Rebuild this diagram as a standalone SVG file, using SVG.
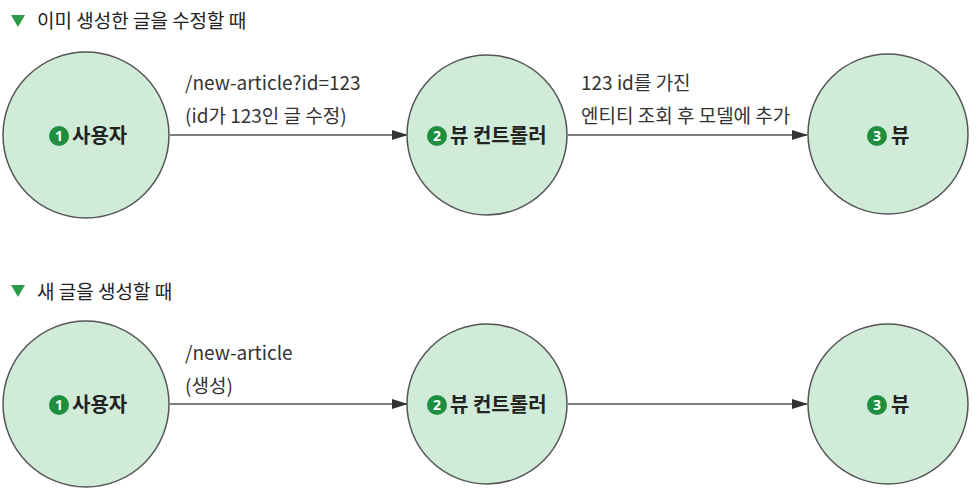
<svg xmlns="http://www.w3.org/2000/svg" width="980" height="492" viewBox="0 0 980 492">
<style>
.hdr{font-family:"Noto Sans CJK KR","Noto Sans",sans-serif;font-size:19px;fill:#222}
.lbl{font-family:"Noto Sans CJK KR","Noto Sans",sans-serif;font-size:19px;fill:#333}
.nl{font-family:"Noto Sans CJK KR","Noto Sans",sans-serif;font-size:20px;font-weight:bold;fill:#222}
.num{font-family:"Noto Sans","Liberation Sans",sans-serif;font-size:14px;font-weight:bold;fill:#fff}
.c{fill:#d0ecd8;stroke:#555;stroke-width:1.5}
.b{fill:#1f8e3f}
.ln{stroke:#555;stroke-width:1.4;fill:none}
.tri{fill:#2e9a48}
</style>
<defs>
<marker id="ah" markerWidth="16" markerHeight="12" refX="15" refY="6" orient="auto" markerUnits="userSpaceOnUse">
<path d="M0,1 L16,6 L0,11 Z" fill="#333"/>
</marker>
</defs>
<g id="header1">
<path class="tri" d="M11,15 L25,15 L18,27 Z"/>
<text class="hdr" x="37" y="28">이미 생성한 글을 수정할 때</text>
</g>
<g id="header2">
<path class="tri" d="M11,285 L25,285 L18,297 Z"/>
<text class="hdr" x="37" y="299">새 글을 생성할 때</text>
</g>
<g id="connectors">
<line class="ln" x1="170" y1="135" x2="407" y2="135" marker-end="url(#ah)"/>
<line class="ln" x1="568" y1="135" x2="807" y2="135" marker-end="url(#ah)"/>
<line class="ln" x1="170" y1="404" x2="407" y2="404" marker-end="url(#ah)"/>
<line class="ln" x1="568" y1="404" x2="807" y2="404" marker-end="url(#ah)"/>
<text class="lbl" x="185" y="90">/new-article?id=123</text>
<text class="lbl" x="185" y="123">(id가 123인 글 수정)</text>
<text class="lbl" x="581" y="90">123 id를 가진</text>
<text class="lbl" x="581" y="123">엔티티 조회 후 모델에 추가</text>
<text class="lbl" x="185" y="360">/new-article</text>
<text class="lbl" x="185" y="393">(생성)</text>
</g>
<g id="n1-user">
<circle class="c" cx="86" cy="135" r="83"/>
<circle class="b" cx="59" cy="136" r="10"/>
<text class="num" x="59" y="141" text-anchor="middle">1</text>
<text class="nl" x="72" y="143">사용자</text>
</g>
<g id="n2-controller">
<circle class="c" cx="487" cy="135" r="80"/>
<circle class="b" cx="437" cy="136" r="10"/>
<text class="num" x="437" y="141" text-anchor="middle">2</text>
<text class="nl" x="450" y="143">뷰 컨트롤러</text>
</g>
<g id="n3-view">
<circle class="c" cx="888" cy="134" r="80"/>
<circle class="b" cx="877" cy="136" r="10"/>
<text class="num" x="877" y="141" text-anchor="middle">3</text>
<text class="nl" x="891" y="143">뷰</text>
</g>
<g id="n4-user">
<circle class="c" cx="86" cy="404" r="83"/>
<circle class="b" cx="59" cy="405" r="10"/>
<text class="num" x="59" y="410" text-anchor="middle">1</text>
<text class="nl" x="72" y="412">사용자</text>
</g>
<g id="n5-controller">
<circle class="c" cx="487" cy="404" r="80"/>
<circle class="b" cx="437" cy="405" r="10"/>
<text class="num" x="437" y="410" text-anchor="middle">2</text>
<text class="nl" x="450" y="412">뷰 컨트롤러</text>
</g>
<g id="n6-view">
<circle class="c" cx="888" cy="404" r="80"/>
<circle class="b" cx="877" cy="405" r="10"/>
<text class="num" x="877" y="410" text-anchor="middle">3</text>
<text class="nl" x="891" y="412">뷰</text>
</g>
</svg>
